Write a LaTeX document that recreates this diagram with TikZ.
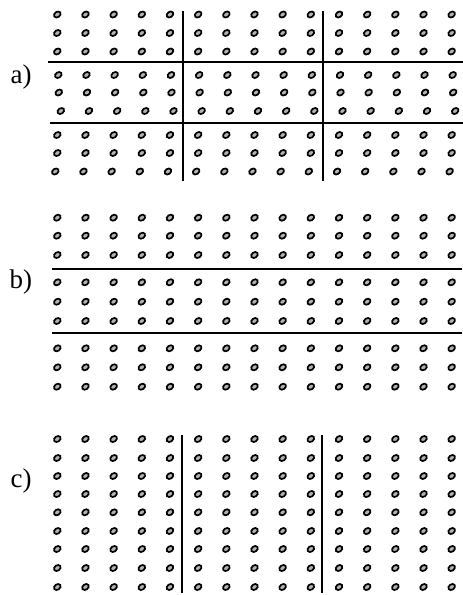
\documentclass[tikz,border=0pt]{standalone}
\usepackage{fontspec}
\setmainfont{Liberation Serif}
\begin{document}
\begin{tikzpicture}[x=1pt,y=-1pt,
  dot/.style={fill=gray!60,draw=black,line width=1.7pt},
  sep/.style={draw=black,line width=1.8pt},
  lbl/.style={anchor=base west,inner sep=0pt,font=\fontsize{27}{29}\selectfont}]
\useasboundingbox (0,0) rectangle (463,595);
\fill[white] (0,0) rectangle (463,595);
% ---------- panel a ----------
\foreach \y/\s in {14.5/0,33/0,51.5/0,75/1,92.5/1.5,111/3.5,135/0,153/0,171.5/-2}{
  \foreach \i in {0,...,14}{
    \draw[dot,shift={(57.3+28.17*\i+\s,\y)},rotate=35] (0,0) ellipse [x radius=3.6pt,y radius=2.7pt];
  }
}
\coordinate (a1w) at (48,62);   \coordinate (a1e) at (463,62);
\coordinate (a2w) at (50,123);  \coordinate (a2e) at (463,123);
\coordinate (a3n) at (183,11);  \coordinate (a3s) at (183,181);
\coordinate (a4n) at (323,11);  \coordinate (a4s) at (323,181);
\draw[sep] (a1w) -- (a1e);
\draw[sep] (a2w) -- (a2e);
\draw[sep] (a3n) -- (a3s);
\draw[sep] (a4n) -- (a4s);
\node[lbl] (la) at (10.5,83.5) {a)};
% ---------- panel b ----------
\foreach \y in {217.7,235.7,255,282.3,301.7,321,348.3,367.3,386.7}{
  \foreach \i in {0,...,14}{
    \draw[dot,shift={(57.3+28.17*\i,\y)},rotate=35] (0,0) ellipse [x radius=3.6pt,y radius=2.7pt];
  }
}
\coordinate (b1w) at (51.5,269);   \coordinate (b1e) at (462,269);
\coordinate (b2w) at (51.5,333.3); \coordinate (b2e) at (462,333.3);
\draw[sep] (b1w) -- (b1e);
\draw[sep] (b2w) -- (b2e);
\node[lbl] (lb) at (9.5,288.5) {b)};
% ---------- panel c ----------
\foreach \y in {439,458,476,494,512.3,531,549,568,587}{
  \foreach \i in {0,...,14}{
    \draw[dot,shift={(57.3+28.17*\i,\y)},rotate=35] (0,0) ellipse [x radius=3.6pt,y radius=2.7pt];
  }
}
\coordinate (c1n) at (182.3,435); \coordinate (c1s) at (182.3,593);
\coordinate (c2n) at (321.7,435); \coordinate (c2s) at (321.7,593);
\draw[sep] (c1n) -- (c1s);
\draw[sep] (c2n) -- (c2s);
\node[lbl] (lc) at (10.5,487.5) {c)};
\end{tikzpicture}
\end{document}
